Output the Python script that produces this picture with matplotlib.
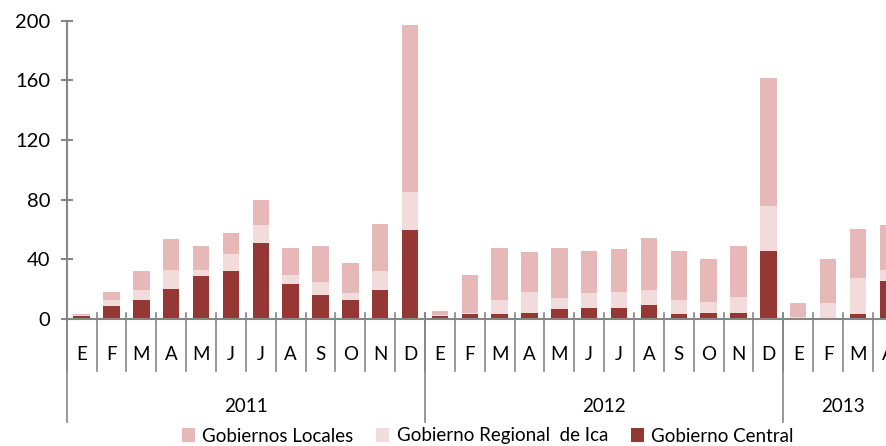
import numpy as np
import matplotlib.pyplot as plt
from matplotlib.transforms import blended_transform_factory

plt.rcParams['font.family'] = ['Lato', 'DejaVu Sans']

months = ["E", "F", "M", "A", "M", "J", "J", "A", "S", "O", "N", "D",
          "E", "F", "M", "A", "M", "J", "J", "A", "S", "O", "N", "D",
          "E", "F", "M", "A"]
years = ["2011", "2012", "2013"]
months_per_year = [12, 12, 4]

central = [2, 8.6, 12.8, 20.4, 28.6, 32, 51, 23.3, 15.9, 12.8, 19.3, 59.7,
           2, 3.2, 3.2, 4.3, 6.4, 7.5, 7.5, 9.7, 3.2, 4.3, 4.3, 45.8,
           0.8, 1, 3.2, 25.5]
regional = [0.8, 4.4, 6.5, 12.7, 4.5, 11.8, 11.7, 6.5, 8.7, 4.3, 12.9, 25.6,
            0.8, 0.9, 9.8, 14.1, 7.5, 9.6, 10.9, 9.6, 9.8, 7.4, 10.7, 29.9,
            0.5, 9.8, 24.6, 7.6]
locales = [0.8, 5.4, 12.7, 20.3, 16.1, 13.9, 17.3, 18, 24.6, 20.2, 31.7, 111.5,
           2.7, 25.7, 34.8, 26.3, 33.9, 28.7, 28.6, 35.2, 32.8, 28.8, 34.2, 85.8,
           9.5, 29.7, 32.7, 29.6]

c_central = '#953735'
c_regional = '#F2DCDB'
c_locales = '#E6B9B8'
grey = '#868686'

W, H = 887, 446
fig = plt.figure(figsize=(W / 100, H / 100), dpi=100)
x0, x1, y0, y1 = 66.7, 902.8, 319, 20.7
ax = fig.add_axes([x0 / W, (H - y0) / H, (x1 - x0) / W, (y0 - y1) / H])

x = np.arange(len(months))
central = np.array(central)
regional = np.array(regional)
locales = np.array(locales)
w = 0.55
ax.bar(x, central, w, color=c_central, label="Gobierno Central", zorder=2)
ax.bar(x, regional, w, bottom=central, color=c_regional, label="Gobierno Regional  de Ica", zorder=2)
ax.bar(x, locales, w, bottom=central + regional, color=c_locales, label="Gobiernos Locales", zorder=2)

ax.set_xlim(-0.5, len(months) - 0.5)
ax.set_ylim(0, 200)
ax.set_yticks(range(0, 201, 40))
ax.set_xticks([])
for s in ['top', 'right']:
    ax.spines[s].set_visible(False)
for s in ['left', 'bottom']:
    ax.spines[s].set_color(grey)
    ax.spines[s].set_linewidth(1.5)
ax.tick_params(axis='y', direction='inout', length=8, width=1.5, color=grey,
               pad=8, labelsize=14.5)

# category separators and labels under the axis
tr = blended_transform_factory(ax.transData, fig.transFigure)
for i in range(len(months) + 1):
    ax.plot([i - 0.5, i - 0.5], [(H - 313) / H, (H - 371) / H], color=grey,
            lw=1.2, transform=tr, clip_on=False)
for i, m in enumerate(months):
    ax.text(i, (H - 355) / H, m, transform=tr, ha='center', va='center', fontsize=13.5)

start = 0
for yr, n in zip(years, months_per_year):
    ax.plot([start - 0.5, start - 0.5], [(H - 313) / H, (H - 422) / H], color=grey,
            lw=1.2, transform=tr, clip_on=False)
    ax.text(start + (n - 1) / 2, (H - 407) / H, yr, transform=tr, ha='center',
            va='center', fontsize=13.5)
    start += n

handles, labels = ax.get_legend_handles_labels()
fig.legend(handles[::-1], labels[::-1], loc='center', bbox_to_anchor=(0.55, (H - 436) / H),
           ncol=3, frameon=False, fontsize=13.5, handlelength=0.7, handleheight=0.7,
           handletextpad=0.4, columnspacing=1.2, borderaxespad=0, borderpad=0)

plt.savefig("out.png", dpi=100)
